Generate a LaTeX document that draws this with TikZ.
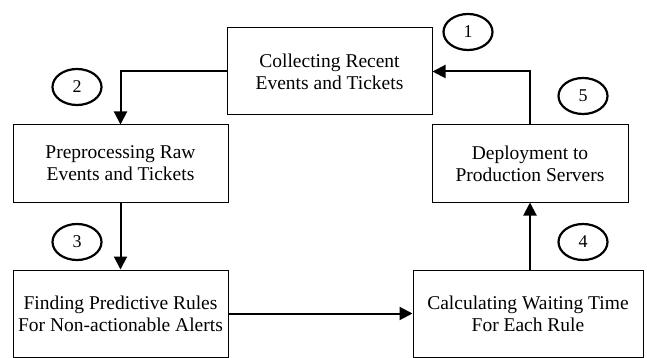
\documentclass[tikz,border=0pt]{standalone}
\usepackage{fontspec}
\setmainfont{Liberation Serif}
\usepackage{tikz}
\usetikzlibrary{arrows.meta}
\usetikzlibrary{shapes}

\begin{document}
\begin{tikzpicture}[x=1pt,y=-1pt]
\tikzset{font=\fontsize{19.5}{22}\selectfont}
\tikzset{stage/.style={draw, line width=1pt, rectangle, inner sep=0pt, align=center}}
\tikzset{num/.style={draw, line width=2.2pt, ellipse, inner sep=0pt, minimum width=49pt, minimum height=36pt, font=\fontsize{18}{18}\selectfont}}
\tikzset{flow/.style={draw, line width=2pt, -{Triangle[length=13pt,width=13pt]}}}
\useasboundingbox (0,0) rectangle (647,358);
\node[stage, minimum width=205pt, minimum height=87pt] (collect) at (329.5,71.5) {Collecting Recent\\Events and Tickets};
\node[stage, minimum width=215pt, minimum height=77pt] (preproc) at (120.5,163.5) {Preprocessing Raw\\Events and Tickets};
\node[stage, minimum width=215pt, minimum height=87pt] (finding) at (120.5,313.5) {Finding Predictive Rules\\For Non-actionable Alerts};
\node[stage, minimum width=230pt, minimum height=87pt] (calc) at (528,313.5) {Calculating Waiting Time\\For Each Rule};
\node[stage, minimum width=196pt, minimum height=77pt] (deploy) at (530,163.5) {Deployment to\\Production Servers};
\node[num] (n1) at (468,32) {1};
\node[num] (n2) at (77,87) {2};
\node[num] (n3) at (77,242) {3};
\node[num] (n4) at (583,242) {4};
\node[num] (n5) at (583,96) {5};
\draw[flow] (collect.west) -| (preproc.north);
\draw[flow] (preproc.south) -- (finding.north);
\draw[flow] (finding.east) -- (calc.west);
\draw[flow] (deploy.south |- calc.north) -- (deploy.south);
\draw[flow] (deploy.north) |- (collect.east);
\end{tikzpicture}
\end{document}
